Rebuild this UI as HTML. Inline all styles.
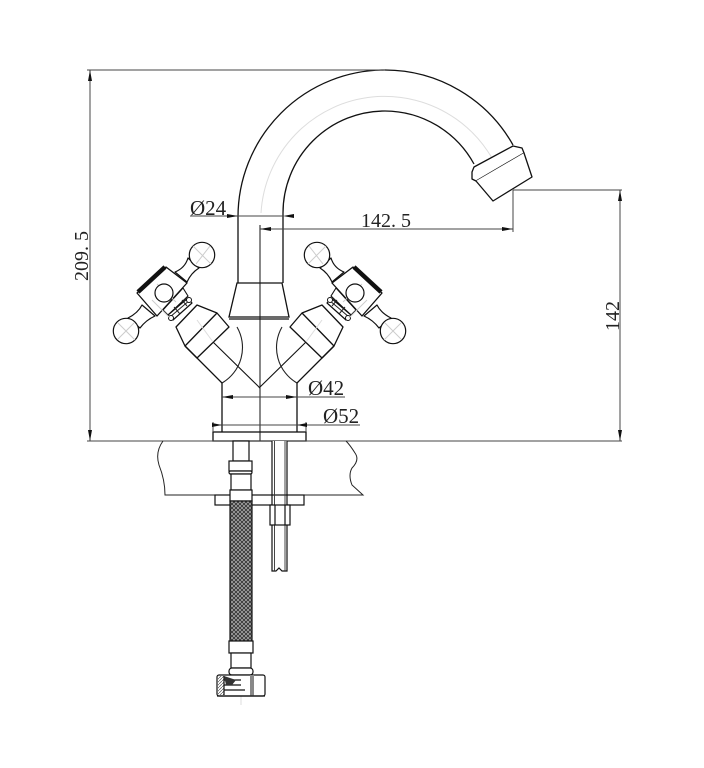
<!DOCTYPE html>
<html><head><meta charset="utf-8"><style>html,body{margin:0;padding:0;background:#fff}svg{display:block}text{font-family:"Liberation Serif",serif;font-size:20px;fill:#222}text.o{font-size:21px}</style></head><body>
<svg width="704" height="768" viewBox="0 0 704 768" xmlns="http://www.w3.org/2000/svg">
<defs>
<pattern id="br" width="4" height="4" patternUnits="userSpaceOnUse"><rect width="4" height="4" fill="#aaa"/><path d="M0 0L4 4M4 0L0 4" stroke="#333" stroke-width=".9"/></pattern>
<pattern id="ht" width="3" height="3" patternUnits="userSpaceOnUse"><path d="M0 3L3 0" stroke="#555" stroke-width=".7"/></pattern>
<g id="valve">
<path d="M213 342L260 388" stroke="#111" stroke-width="1.1" fill="none"/>
<path d="M237 327A41 41 0 0 1 222 383" stroke="#222" stroke-width="1.1" fill="none"/>
<path d="M176 327L197 305L217 313L229 327L197 358L185 346Z" fill="#fff" stroke="#111" stroke-width="1.3" stroke-linejoin="round"/>
<path d="M185 346L217 313M185 346L222 383" stroke="#111" stroke-width="1.3" fill="none"/>
<path d="M197 320L213 342" stroke="#ddd" stroke-width="1" fill="none"/>
<!-- neck and nut -->
<path d="M163 310L183 288L188 296L168 315Z" fill="#fff" stroke="#111" stroke-width="1.1"/>
<path d="M168 315L188 298L192 303L173 320Z" fill="#fff" stroke="#111" stroke-width="1.2" stroke-linejoin="round"/>
<path d="M170 317L190 300" stroke="#222" stroke-width="1" fill="none"/>
<path d="M174 307L180 314M182 300L187 306" stroke="#222" stroke-width="1" fill="none"/>
<circle cx="171" cy="318" r="2.500" fill="#fff" stroke="#111" stroke-width="1"/>
<circle cx="189" cy="300" r="2.500" fill="#fff" stroke="#111" stroke-width="1"/>
<!-- arms -->
<path d="M175 272Q185 268 188 258L199 268Q191 273 187 282Z" fill="#fff" stroke="#111" stroke-width="1.2" stroke-linejoin="round"/>
<path d="M190 256L200 266" stroke="#111" stroke-width="1.2" fill="none"/>
<path d="M142 305Q138 313 128 318L140 328Q146 320 155 316Z" fill="#fff" stroke="#111" stroke-width="1.2" stroke-linejoin="round"/>
<path d="M126 320L138 330" stroke="#111" stroke-width="1.2" fill="none"/>
<circle cx="202" cy="255" r="12.7" fill="#fff" stroke="#111" stroke-width="1.2"/>
<circle cx="126" cy="331" r="12.7" fill="#fff" stroke="#111" stroke-width="1.2"/>
<path d="M193 246L211 264M196 264L210 246M118 323L135 340M118 339L134 323" stroke="#ccc" stroke-width="1" fill="none"/>
<!-- handle body -->
<path d="M137 293L166 267L187 283L157 316Z" fill="#fff" stroke="#111" stroke-width="1.3" stroke-linejoin="round"/>
<path d="M138 292L165 267" stroke="#111" stroke-width="4.5"/>
<path d="M176 302L157 284M152 300L170 318" stroke="#ccc" stroke-width="1" fill="none"/>
<circle cx="164" cy="293" r="9" fill="#fff" stroke="#111" stroke-width="1.2"/>
</g>
</defs>
<!-- center lines -->
<g stroke="#ddd" stroke-width="1" fill="none">
<path d="M261 213A124 124 0 0 1 505 190"/>
<path d="M241 432V705"/>
</g>
<!-- spout -->
<g fill="none" stroke="#111" stroke-width="1.3">
<path d="M238 283V217A147 147 0 0 1 385 70A147 147 0 0 1 513 145"/>
<path d="M283 283V213A102 102 0 0 1 385 111A102 102 0 0 1 474 164"/>
<path d="M237 283H282L289 317H229Z" fill="#fff"/>
<path d="M229 319H289"/>
<path d="M472 172L474 167L513 146L522 148L524 153L476 181L472 179Z" fill="#fff" stroke-linejoin="round"/>
<path d="M524 153L532 177L493 201L476 181" fill="#fff" stroke-linejoin="round"/>
</g>
<use href="#valve"/>
<use href="#valve" transform="translate(519 0) scale(-1 1)"/>
<!-- base -->
<g fill="none" stroke="#111" stroke-width="1.3">
<path d="M222 383V432M297 383V432"/>
<rect x="213" y="432" width="93" height="9" fill="#fff"/>
<path d="M260 225V441" stroke-width="1"/>
</g>
<!-- dimensions -->
<g fill="none" stroke="#444" stroke-width="1">
<path d="M87 70H385M90 70V441M87 441H622M620 190V441M513 190H622M513 190V232M260 229H513"/>
<path d="M190 216H283M222 397H345M213 425H360M213 422V432M306 422V432"/>
</g>
<g fill="#111">
<path d="M90 70l-2 11h4zM90 441l-2-11h4zM620 190l-2 11h4zM620 441l-2-11h4z"/>
<path d="M513 229l-11-2v4zM260 229l11-2v4z"/>
<path d="M238 216l-11-2v4zM283 216l11-2v4z"/>
<path d="M222 397l11-2v4zM297 397l-11-2v4z"/>
<path d="M222 425l-10-2v4zM297 425l10-2v4z"/>
</g>
<text class="o" x="190" y="215">Ø24</text>
<text x="361" y="227">142. 5</text>
<text class="o" x="308" y="395">Ø42</text>
<text class="o" x="323" y="423">Ø52</text>
<text transform="translate(88 281) rotate(-90)">209. 5</text>
<text transform="translate(619 331) rotate(-90)">142</text>
<!-- counter -->
<g fill="none" stroke="#222" stroke-width="1">
<path d="M163 441Q155 452 159 465Q165 480 165 495H363L352 485Q348 475 352 468Q360 460 355 453Q350 445 346 441"/>
</g>
<!-- underside -->
<g fill="#fff" stroke="#111" stroke-width="1.2">
<rect x="215" y="495" width="89" height="10"/>
<rect x="233" y="441" width="16" height="20"/>
<rect x="229" y="461" width="23" height="10"/>
<rect x="229" y="471" width="23" height="3" rx="1.5"/>
<rect x="231" y="474" width="20" height="16"/>
<rect x="230" y="490" width="22" height="11"/>
<rect x="230" y="501" width="22" height="140" fill="url(#br)"/>
<rect x="229" y="641" width="24" height="12"/>
<rect x="231" y="653" width="20" height="15"/>
<rect x="229" y="668" width="24" height="7" rx="3"/>
<path d="M272 441V571H276L279 568L282 571H287V441"/>
<path d="M272 495H287" fill="none"/>
<path d="M274.500 441V571M285 441V571" fill="none" stroke-width=".9" stroke="#333"/>
<rect x="270" y="505" width="20" height="20"/>
<path d="M275 505V525M285 505V525" fill="none"/>
<rect x="217" y="675" width="48" height="21" rx="2"/>
<rect x="218" y="676" width="6" height="19" fill="url(#ht)" stroke="none"/>
<rect x="250" y="675" width="4" height="21" fill="#888" stroke="none"/>
<path d="M224 676V695M224 680H241M224 685H241M224 690H245M217 696H265" fill="none"/>
<path d="M224 676L236 680L232 685H226Z" fill="#333" stroke="none"/>
</g>
</svg>
</body></html>
